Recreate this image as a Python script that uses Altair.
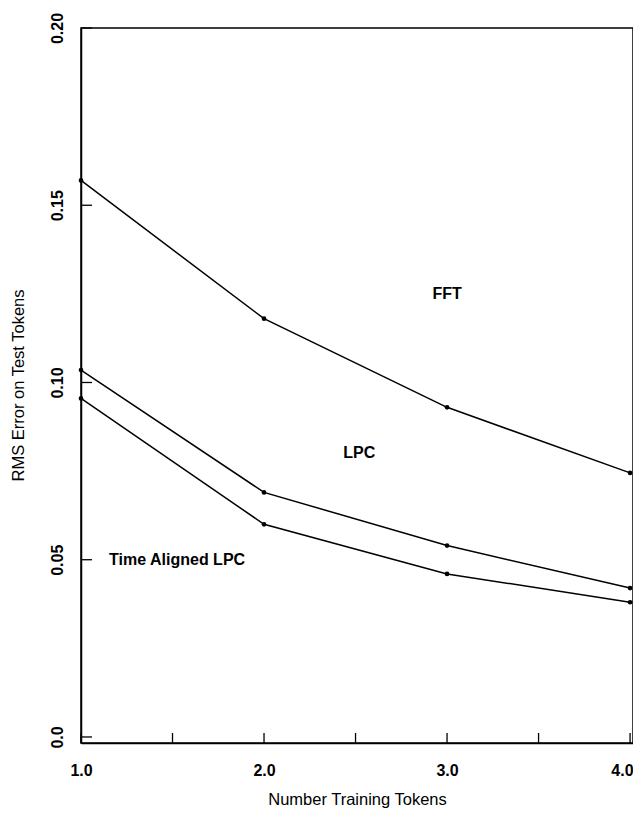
import altair as alt
import pandas as pd

# ---- data ----
n_tokens = [1.0, 2.0, 3.0, 4.0]
fft_err = [0.157, 0.118, 0.093, 0.0745]
lpc_err = [0.1035, 0.069, 0.054, 0.042]
ta_lpc_err = [0.0955, 0.060, 0.046, 0.038]

label_text = ["FFT", "LPC", "Time Aligned LPC"]
label_x = [3.0, 2.52, 1.525]
label_y = [0.125, 0.080, 0.050]

x_ticks = [1.0, 2.0, 3.0, 4.0]
x_minor_ticks = [1.5, 2.5, 3.5]
y_ticks = [0.0, 0.05, 0.10, 0.15, 0.20]

FONT = "Liberation Sans"
W, H = 552, 715

rows = []
for name, vals in [("FFT", fft_err), ("LPC", lpc_err), ("Time Aligned LPC", ta_lpc_err)]:
    for x, v in zip(n_tokens, vals):
        rows.append({"series": name, "tokens": x, "err": v})
df = pd.DataFrame(rows)

xs = alt.Scale(domain=[1.0, 4.016], nice=False, zero=False)
ys = alt.Scale(domain=[-0.0017, 0.2], nice=False, zero=False)

x_enc = alt.X("tokens:Q", scale=xs,
              axis=alt.Axis(values=x_ticks, format=".1f", title="Number Training Tokens",
                            ticks=False, labelPadding=19, labelFontWeight="bold",
                            labelFontSize=16, titleFontSize=16.5, titleFontWeight="normal",
                            labelAlign={"condition": {"test": "datum.value == 4", "value": "right"},
                                        "value": "center"},
                            labelOffset={"condition": {"test": "datum.value == 4", "value": 3},
                                         "value": 0},
                            titleY=56, titleBaseline="middle", labelFont=FONT, titleFont=FONT,
                            domainColor="black", domainWidth=1.5, labelColor="black",
                            titleColor="black"))
y_enc = alt.Y("err:Q", scale=ys,
              axis=alt.Axis(values=y_ticks, title="RMS Error on Test Tokens",
                            labelExpr="datum.value == 0 ? '0.0' : format(datum.value, '.2f')",
                            ticks=False, labelAngle=270, labelAlign="center",
                            labelBaseline="bottom", labelPadding=16,
                            labelFontWeight="bold", labelFontSize=16,
                            titleFontSize=16.5, titleFontWeight="normal",
                            titleAngle=270, titleX=-63, titleY=357,
                            titleAlign="center", titleBaseline="middle",
                            labelFont=FONT, titleFont=FONT, domainColor="black",
                            domainWidth=1.5, labelColor="black", titleColor="black"))

base = alt.Chart(df)
lines = base.mark_line(color="black", strokeWidth=1.5).encode(
    x=x_enc, y=y_enc, detail="series:N")
points = base.mark_circle(color="black", size=22, opacity=1).encode(
    x="tokens:Q", y="err:Q")

labels_df = pd.DataFrame({"text": label_text, "tokens": label_x, "err": label_y})
labels = alt.Chart(labels_df).mark_text(font=FONT, fontSize=16, fontWeight="bold",
                                         color="black", align="center",
                                         baseline="middle").encode(
    x="tokens:Q", y="err:Q", text="text:N")

xt_df = pd.DataFrame({"tokens": x_ticks + x_minor_ticks})
xticks = alt.Chart(xt_df).mark_rule(color="black", strokeWidth=1.3).encode(
    x="tokens:Q", y=alt.value(H), y2=alt.value(H - 10))

yt_df = pd.DataFrame({"err": y_ticks})
yticks = alt.Chart(yt_df).mark_rule(color="black", strokeWidth=1.3).encode(
    y="err:Q", x=alt.value(0), x2=alt.value(11))

chart = alt.layer(lines, points, labels, xticks, yticks).properties(
    width=W, height=H,
    autosize=alt.AutoSizeParams(type="none"),
    padding={"left": 73, "top": 20, "right": 0, "bottom": 66},
).configure_view(stroke="black", strokeWidth=1.5).configure_axis(grid=False)

chart.save("out.html", embed_options={"renderer": "svg", "actions": False})
